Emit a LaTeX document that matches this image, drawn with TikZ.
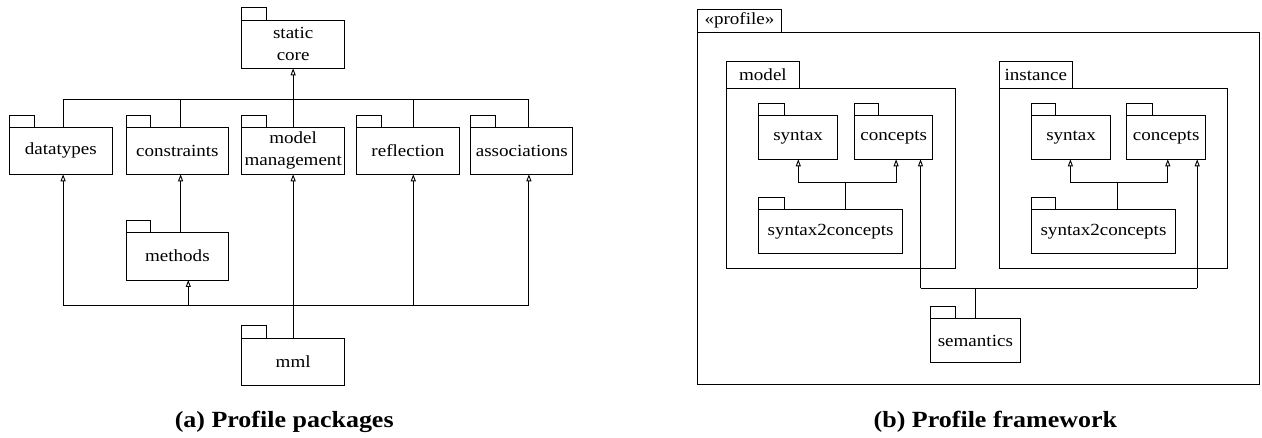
\documentclass[tikz,border=0pt]{standalone}
\usepackage{fontspec}
\setmainfont{Liberation Serif}[FakeStretch=1.12]
\usetikzlibrary{arrows.meta}
\tikzset{
  pkg/.style={draw, line width=0.9pt, inner sep=1pt, outer sep=0pt, align=center,
    font=\fontsize{17}{22}\selectfont},
  frame/.style={draw, line width=0.9pt, inner sep=0pt, outer sep=0pt},
  tabtext/.style={draw, line width=0.9pt, inner sep=0pt, outer sep=0pt, anchor=south west,
    font=\fontsize{17}{22}\selectfont},
  tab/.style={draw, line width=0.9pt},
  conn/.style={line width=0.9pt},
  gen/.style={conn, -{Triangle[open, length=7pt, width=5pt]}},
  caption/.style={font=\fontsize{23.2}{28}\selectfont\bfseries, anchor=base},
}
% name, x1, ytab, ytop, x2, ybot, xtab, text
\newcommand{\pkgbox}[8]{%
  \node[pkg, minimum width={#5-#2}, minimum height={#6-#4}] (#1) at ({(#2+#5)/2},{(#4+#6)/2}) {#8};
  \draw[tab] (#1.north west) rectangle (#7,#3);
}
% name, x1, ytab, ytop, x2, ybot, xtab, text (labelled frame)
\newcommand{\labframe}[8]{%
  \node[frame, minimum width={#5-#2}, minimum height={#6-#4}] (#1) at ({(#2+#5)/2},{(#4+#6)/2}) {};
  \node[tabtext, minimum width={#7-#2}, minimum height={#4-#3}] (#1tab) at (#1.north west) {#8};
}
\begin{document}
\begin{tikzpicture}[x=1pt, y=-1pt]
\useasboundingbox (0,0) rectangle (1262,438);

% ---------- (a) Profile packages ----------
\pkgbox{sc}{241.9}{7.3}{20.3}{344.4}{68.3}{266.7}{static\\core}
\pkgbox{dt}{9.6}{115}{127.3}{112.1}{174.3}{34.4}{datatypes}
\pkgbox{co}{126.3}{115}{127.3}{228.5}{174.3}{150.4}{constraints}
\pkgbox{mm}{241.9}{115}{127.3}{344.4}{174.3}{266.7}{model\\management}
\pkgbox{re}{356.7}{115}{127.3}{459.2}{174.3}{381.2}{reflection}
\pkgbox{as}{470.7}{115}{127.3}{572.9}{174.3}{495.7}{associations}
\pkgbox{me}{126.3}{220.7}{232.3}{228.5}{280}{150.4}{methods}
\pkgbox{ml}{241.9}{325.7}{338.3}{344.4}{385.7}{266.7}{mml}

\coordinate (t1) at (63.1,99.3);
\coordinate (t2) at (180.6,99.3);
\coordinate (t4) at (413.3,99.3);
\coordinate (t5) at (528.9,99.3);
\draw[conn] (t1 |- dt.north) -- (t1) -- (t5) -- (t5 |- as.north);
\draw[conn] (t2) -- (t2 |- co.north);
\draw[conn] (t4) -- (t4 |- re.north);
\draw[gen] (mm.north) -- (sc.south);

\coordinate (b1) at (63.1,305);
\coordinate (bm) at (188.3,305);
\coordinate (b4) at (413.3,305);
\coordinate (b5) at (528.9,305);
\draw[conn] (b1) -- (b5);
\draw[gen] (b1) -- (b1 |- dt.south);
\draw[gen] (bm) -- (bm |- me.south);
\draw[gen] (b4) -- (b4 |- re.south);
\draw[gen] (b5) -- (b5 |- as.south);
\draw[gen] (t2 |- me.north) -- (t2 |- co.south);
\draw[gen] (ml.north) -- (mm.south);

\node[caption] (capa) at (284.2,428) {(a) Profile packages};

% ---------- (b) Profile framework ----------
\labframe{prof}{697.3}{9}{32.3}{1259}{384.3}{781.5}{\guillemotleft profile\guillemotright}
\labframe{mdl}{726.5}{61.7}{88.3}{955.1}{268.3}{799.4}{model}
\labframe{ins}{999.3}{61.7}{88.3}{1227.8}{268.3}{1072.2}{instance}

\pkgbox{msy}{758.6}{103.3}{115.7}{837.7}{159.3}{784.1}{syntax}
\pkgbox{mco}{854.8}{103.3}{115.7}{932.5}{159.3}{878.9}{concepts}
\pkgbox{ms2}{758.6}{197.3}{209.3}{902.6}{253.3}{784.1}{syntax2concepts}

\pkgbox{isy}{1031.7}{103.3}{115.7}{1110.5}{159.3}{1055.8}{syntax}
\pkgbox{ico}{1126.9}{103.3}{115.7}{1205.3}{159.3}{1152.4}{concepts}
\pkgbox{is2}{1031.7}{197.3}{209.3}{1175.3}{253.3}{1055.8}{syntax2concepts}

\pkgbox{sem}{930.7}{306.7}{318.3}{1020}{362.7}{955.1}{semantics}

\coordinate (mj) at (845,182.7);
\coordinate (ml1) at (798.3,182.7);
\coordinate (mr1) at (896.1,182.7);
\draw[conn] (mj |- ms2.north) -- (mj);
\draw[conn] (ml1) -- (mr1);
\draw[gen] (ml1) -- (ml1 |- msy.south);
\draw[gen] (mr1) -- (mr1 |- mco.south);

\coordinate (ij) at (1117.4,182.7);
\coordinate (il1) at (1070.4,182.7);
\coordinate (ir1) at (1167.8,182.7);
\draw[conn] (ij |- is2.north) -- (ij);
\draw[conn] (il1) -- (ir1);
\draw[gen] (il1) -- (il1 |- isy.south);
\draw[gen] (ir1) -- (ir1 |- ico.south);

\coordinate (sl) at (920.5,288.3);
\coordinate (sr) at (1197.2,288.3);
\draw[conn] (sem.north) -- (sem.north |- sl);
\draw[conn] (sl) -- (sr);
\draw[gen] (sl) -- (sl |- mco.south);
\draw[gen] (sr) -- (sr |- ico.south);

\node[caption] (capb) at (995.4,428) {(b) Profile framework};
\end{tikzpicture}
\end{document}
